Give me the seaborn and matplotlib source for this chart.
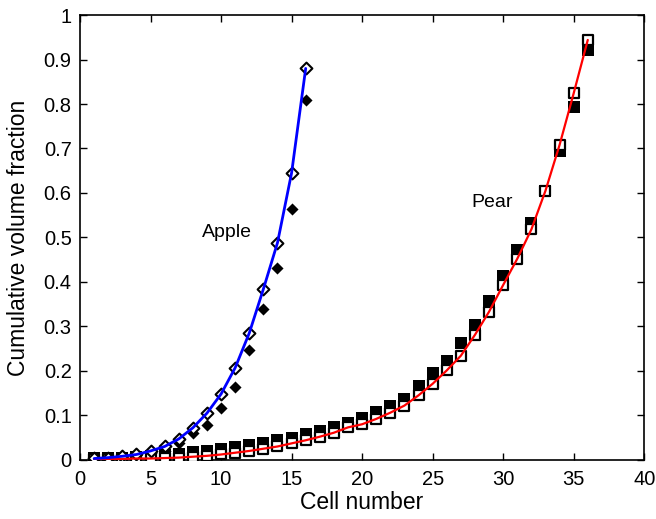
import matplotlib
matplotlib.use("Agg")
import matplotlib.pyplot as plt
import numpy as np
import pandas as pd
import seaborn as sns

sns.set_style("ticks")
plt.rcParams['font.family'] = ['Liberation Sans', 'DejaVu Sans']
plt.rcParams['text.color'] = 'black'
plt.rcParams['axes.labelcolor'] = 'black'
plt.rcParams['xtick.color'] = 'black'
plt.rcParams['ytick.color'] = 'black'

# Apple: cell 1..16
apple_cells = list(range(1, 17))
apple_open = [0.003, 0.005, 0.008, 0.012, 0.02, 0.03, 0.047, 0.072, 0.105, 0.148,
              0.207, 0.285, 0.384, 0.488, 0.645, 0.88]
apple_filled = [0.003, 0.004, 0.007, 0.01, 0.015, 0.02, 0.037, 0.06, 0.079, 0.117,
                0.164, 0.247, 0.339, 0.431, 0.565, 0.81]

# Pear: cell 1..36
pear_cells = list(range(1, 37))
pear_open = [0.001, 0.002, 0.002, 0.003, 0.003, 0.004, 0.005, 0.007, 0.009, 0.012,
             0.016, 0.02, 0.025, 0.03, 0.037, 0.044, 0.052, 0.061, 0.073, 0.08,
             0.092, 0.106, 0.122, 0.145, 0.171, 0.201, 0.234, 0.281, 0.333, 0.393,
             0.452, 0.518, 0.605, 0.708, 0.824, 0.944]
pear_filled = [0.003, 0.004, 0.005, 0.006, 0.008, 0.01, 0.012, 0.017, 0.02, 0.024,
               0.028, 0.033, 0.038, 0.045, 0.049, 0.058, 0.065, 0.073, 0.082, 0.094,
               0.107, 0.12, 0.137, 0.167, 0.195, 0.223, 0.262, 0.303, 0.356, 0.413,
               0.472, 0.533, 0.605, 0.695, 0.793, 0.921]

apple = pd.DataFrame({"cell": apple_cells, "open": apple_open, "filled": apple_filled})
pear = pd.DataFrame({"cell": pear_cells, "open": pear_open, "filled": pear_filled})

fig = plt.figure(figsize=(6.56, 5.19), dpi=100)
ax = fig.add_axes([0.122, 0.114, 0.860, 0.857])

# filled markers underneath
sns.scatterplot(data=pear, x="cell", y="filled", marker="s", s=70, color="black",
                edgecolor="black", linewidth=0, ax=ax, zorder=2)
sns.scatterplot(data=apple, x="cell", y="filled", marker="D", s=38, color="black",
                edgecolor="black", linewidth=0, ax=ax, zorder=2)

# open markers with fitted curves
ax.scatter(pear["cell"], pear["open"], marker="s", s=50, facecolors="white",
           edgecolors="black", linewidths=1.6, zorder=3)
ax.scatter(apple["cell"], apple["open"], marker="D", s=36, facecolors="white",
           edgecolors="black", linewidths=1.5, zorder=3)
sns.lineplot(data=pear, x="cell", y="open", color="red", linewidth=1.6, ax=ax, zorder=4)
sns.lineplot(data=apple, x="cell", y="open", color="blue", linewidth=2.0, ax=ax, zorder=4)

ax.text(10.4, 0.51, "Apple", fontsize=14, ha="center", va="center")
ax.text(29.2, 0.578, "Pear", fontsize=14, ha="center", va="center")

ax.set_xlim(0, 40)
ax.set_ylim(0, 1)
ax.set_xticks(np.arange(0, 41, 5))
ax.set_yticks(np.arange(0, 1.01, 0.1))
ax.set_yticklabels(["0", "0.1", "0.2", "0.3", "0.4", "0.5", "0.6", "0.7", "0.8", "0.9", "1"])
ax.tick_params(direction="in", top=True, right=True, labelsize=14.5, length=5, width=1)
ax.tick_params(axis="x", pad=7)
ax.tick_params(axis="y", pad=6)
ax.set_xlabel("Cell number", fontsize=16.5, labelpad=2)
ax.set_ylabel("Cumulative volume fraction", fontsize=16.5, labelpad=10)
for sp in ax.spines.values():
    sp.set_visible(True)
    sp.set_linewidth(1.2)
    sp.set_color("black")

fig.savefig("out.png", dpi=100)
